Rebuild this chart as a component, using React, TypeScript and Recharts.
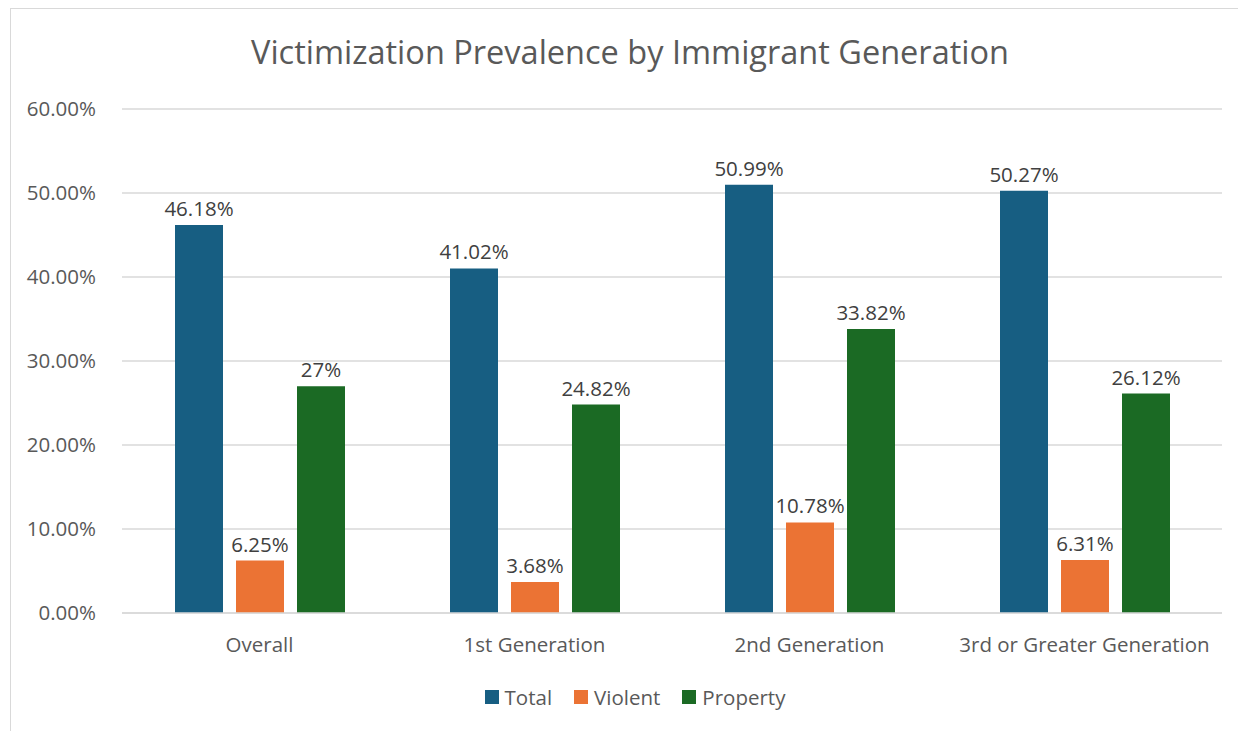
import { BarChart, Bar, XAxis, YAxis, CartesianGrid, Legend, LabelList } from "recharts";

const categories = ["Overall", "1st Generation", "2nd Generation", "3rd or Greater Generation"];
const totalValues = [46.18, 41.02, 50.99, 50.27];
const violentValues = [6.25, 3.68, 10.78, 6.31];
const propertyValues = [27, 24.82, 33.82, 26.12];
const yTicks = [0, 10, 20, 30, 40, 50, 60];

const seriesNames = ["Total", "Violent", "Property"];
const seriesColors = ["#175e82", "#eb7334", "#1b6a24"];

const data = categories.map((name, i) => ({
  name,
  Total: totalValues[i],
  Violent: violentValues[i],
  Property: propertyValues[i],
}));

const FONT = "'Open Sans', sans-serif";
const pct = (v: number) => `${v}%`;

function LegendRow() {
  return (
    <div style={{ display: "flex", justifyContent: "center", gap: 22, fontSize: 20.5, color: "#595959", fontFamily: FONT }}>
      {seriesNames.map((n, i) => (
        <span key={n} style={{ display: "flex", alignItems: "center" }}>
          <span style={{ width: 14, height: 14, background: seriesColors[i], marginRight: 6, display: "inline-block" }} />
          {n}
        </span>
      ))}
    </div>
  );
}

export default function App() {
  return (
    <div style={{ position: "absolute", left: 0, top: 0, width: 1238, height: 731, background: "#fff", overflow: "hidden", fontFamily: FONT }}>
      <div style={{ position: "absolute", left: 10, top: 8, width: 1260, height: 760, border: "1px solid #d9d9d9" }} />
      <div style={{ position: "absolute", left: 0, top: 29, width: 1260, textAlign: "center", fontSize: 32.5, color: "#595959" }}>
        Victimization Prevalence by Immigrant Generation
      </div>
      <div style={{ position: "absolute", left: 0, top: 0 }}>
        <BarChart
          width={1238}
          height={731}
          data={data}
          margin={{ top: 109, right: 16, bottom: 88, left: 0 }}
          barCategoryGap={53}
          barGap={13}
        >
          <CartesianGrid vertical={false} stroke="#d9d9d9" strokeWidth={1.5} />
          <XAxis
            dataKey="name"
            height={30}
            axisLine={{ stroke: "#d9d9d9", strokeWidth: 1.5 }}
            tickLine={false}
            tick={{ fill: "#595959", fontSize: 20.5, fontFamily: FONT }}
            tickMargin={18}
          />
          <YAxis
            width={122}
            domain={[0, 60]}
            ticks={yTicks}
            tickFormatter={(v: number) => `${v.toFixed(2)}%`}
            axisLine={false}
            tickLine={false}
            tickMargin={20}
            tick={{ fill: "#595959", fontSize: 20.5, fontFamily: FONT }}
          />
          <Legend
            verticalAlign="bottom"
            content={() => <LegendRow />}
            wrapperStyle={{ position: "absolute", left: 0, width: 1270, height: 0, top: 683, overflow: "visible" }}
          />
          <Bar dataKey="Total" fill={seriesColors[0]} isAnimationActive={false}>
            <LabelList dataKey="Total" position="top" offset={9} formatter={pct} fill="#404040" fontSize={20.5} fontFamily={FONT} />
          </Bar>
          <Bar dataKey="Violent" fill={seriesColors[1]} isAnimationActive={false}>
            <LabelList dataKey="Violent" position="top" offset={9} formatter={pct} fill="#404040" fontSize={20.5} fontFamily={FONT} />
          </Bar>
          <Bar dataKey="Property" fill={seriesColors[2]} isAnimationActive={false}>
            <LabelList dataKey="Property" position="top" offset={9} formatter={pct} fill="#404040" fontSize={20.5} fontFamily={FONT} />
          </Bar>
        </BarChart>
      </div>
    </div>
  );
}
